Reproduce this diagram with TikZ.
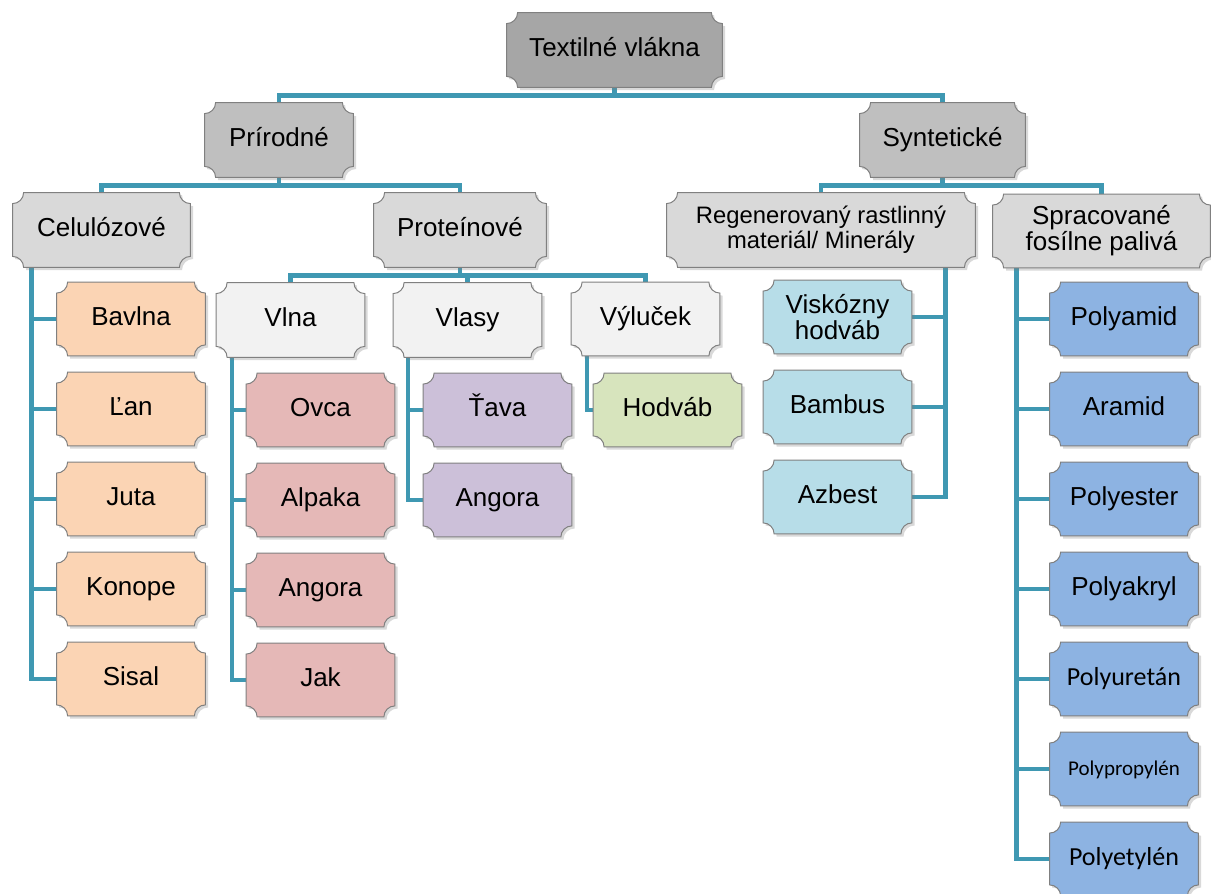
\documentclass[tikz,border=0pt]{standalone}
\usepackage{fontspec}
\setmainfont{Liberation Sans}
\newfontfamily\calibrifont{Carlito}
\usepackage{tikz}
\usetikzlibrary{calc,backgrounds,shadows}
\definecolor{LinkTeal}{HTML}{3F98B2}
\definecolor{EdgeGrey}{HTML}{808080}
\definecolor{RootGrey}{HTML}{A6A6A6}
\definecolor{MainGrey}{HTML}{BFBFBF}
\definecolor{SubGrey}{HTML}{D9D9D9}
\definecolor{PaleGrey}{HTML}{F2F2F2}
\definecolor{PlantPeach}{HTML}{FBD4B4}
\definecolor{WoolRose}{HTML}{E5B8B7}
\definecolor{HairLilac}{HTML}{CCC0D9}
\definecolor{SilkGreen}{HTML}{D7E4BD}
\definecolor{RegenBlue}{HTML}{B7DDE8}
\definecolor{FossilBlue}{HTML}{8DB3E2}
\newlength{\notch}\setlength{\notch}{5.5pt}
\newcommand{\plaque}[2]{%
  \path[plaquefill, fill=#2]
    ($(#1.north west)+(\notch,0pt)$) arc[start angle=0,end angle=-90,radius=\notch]
    -- ($(#1.south west)+(0pt,\notch)$) arc[start angle=90,end angle=0,radius=\notch]
    -- ($(#1.south east)+(-\notch,0pt)$) arc[start angle=180,end angle=90,radius=\notch]
    -- ($(#1.north east)+(0pt,-\notch)$) arc[start angle=270,end angle=180,radius=\notch]
    -- cycle;}
\tikzset{
  fibre/.style={minimum width=74pt, minimum height=36.5pt, inner sep=0pt, align=center,
    font=\fontsize{13}{13}\selectfont, text height=0.8em, text depth=0.2em},
  twoline/.style={text height={}, text depth={}},
  plaquefill/.style={draw=EdgeGrey, line width=0.5pt,
    drop shadow={shadow xshift=1.3pt, shadow yshift=-1.3pt, opacity=0.3}},
  link/.style={draw=LinkTeal, line width=2.2pt},
}
\begin{document}
\begin{tikzpicture}[x=0.5pt, y=-0.5pt]
\useasboundingbox (0,0) rectangle (1211,894);
% upper levels
\node[fibre, minimum width=107.5pt, minimum height=37pt] (textil) at (614.5,50) {Textilné vlákna};
\node[fibre, minimum height=37pt] (prirodne) at (279,140) {Prírodné};
\node[fibre, minimum width=82.5pt, minimum height=37pt] (synt) at (942.5,140) {Syntetické};
\node[fibre, minimum width=88.5pt, minimum height=37pt] (celul) at (101.5,230) {Celulózové};
\node[fibre, minimum width=86pt, minimum height=37pt] (protein) at (460,230) {Proteínové};
\node[fibre, twoline, minimum width=154pt, minimum height=37pt, font=\fontsize{11.9}{12.5}\selectfont] (regen) at (821,230) {Regenerovaný rastlinný\\materiál/ Minerály};
\node[fibre, twoline, minimum width=108.5pt] (fosil) at (1101.5,231) {Spracované\\fosílne palivá};
\node[fibre, minimum height=37pt] (vlna) at (290.5,320) {Vlna};
\node[fibre, minimum height=37pt] (vlasy) at (467.5,320) {Vlasy};
\node[fibre] (vylucok) at (645.5,319) {Výluček};
% leaves
\foreach \name/\txt [count=\i] in {bavlna/Bavlna, lan/Ľan, juta/Juta, konope/Konope, sisal/Sisal}
  \node[fibre] (\name) at (131,{229+90*\i}) {\txt};
\foreach \name/\txt [count=\i] in {ovca/Ovca, alpaka/Alpaka, angoraw/Angora, jak/Jak}
  \node[fibre] (\name) at (320.5,{320+90*\i}) {\txt};
\foreach \name/\txt [count=\i] in {tava/Ťava, angorah/Angora}
  \node[fibre] (\name) at (497.5,{320+90*\i}) {\txt};
\node[fibre] (hodvab) at (667.5,410) {Hodváb};
\node[fibre, twoline] (viskoza) at (837.5,317) {Viskózny\\hodváb};
\foreach \name/\txt [count=\i] in {bambus/Bambus, azbest/Azbest}
  \node[fibre] (\name) at (837.5,{317+90*\i}) {\txt};
\foreach \name/\txt [count=\i] in {pamid/Polyamid, aramid/Aramid, pester/Polyester, pakryl/Polyakryl,
    puretan/{\calibrifont Polyuretán}, ppropyl/{\calibrifont\fontsize{10.5}{12}\selectfont Polypropylén},
    petyl/{\calibrifont Polyetylén}}
  \node[fibre] (\name) at (1124,{229+90*\i}) {\txt};
\begin{scope}[on background layer]
% connectors
\foreach \up/\down in {textil/prirodne, textil/synt, prirodne/celul, prirodne/protein,
    synt/regen, synt/fosil, protein/vlna, protein/vlasy, protein/vylucok}
  \draw[link] (\up.south) -- ++(0,8) -| (\down.north);
\foreach \kid in {bavlna,lan,juta,konope,sisal}
  \draw[link] ($(celul.south west)+(19,0)$) |- (\kid.west);
\foreach \kid in {ovca,alpaka,angoraw,jak}
  \draw[link] ($(vlna.south west)+(16,0)$) |- (\kid.west);
\foreach \kid in {tava,angorah}
  \draw[link] ($(vlasy.south west)+(15,0)$) |- (\kid.west);
\draw[link] ($(vylucok.south west)+(16,0)$) |- (hodvab.west);
\foreach \kid in {viskoza,bambus,azbest}
  \draw[link] ($(regen.south east)+(-30,0)$) |- (\kid.east);
\foreach \kid in {pamid,aramid,pester,pakryl,puretan,ppropyl,petyl}
  \draw[link] ($(fosil.south west)+(24,0)$) |- (\kid.west);
% plaques
\foreach \n/\c in {textil/RootGrey, prirodne/MainGrey, synt/MainGrey,
    celul/SubGrey, protein/SubGrey, regen/SubGrey, fosil/SubGrey,
    vlna/PaleGrey, vlasy/PaleGrey, vylucok/PaleGrey,
    bavlna/PlantPeach, lan/PlantPeach, juta/PlantPeach, konope/PlantPeach, sisal/PlantPeach,
    ovca/WoolRose, alpaka/WoolRose, angoraw/WoolRose, jak/WoolRose,
    tava/HairLilac, angorah/HairLilac, hodvab/SilkGreen,
    viskoza/RegenBlue, bambus/RegenBlue, azbest/RegenBlue,
    pamid/FossilBlue, aramid/FossilBlue, pester/FossilBlue, pakryl/FossilBlue,
    puretan/FossilBlue, ppropyl/FossilBlue, petyl/FossilBlue}
  \plaque{\n}{\c};
\end{scope}
\end{tikzpicture}
\end{document}
